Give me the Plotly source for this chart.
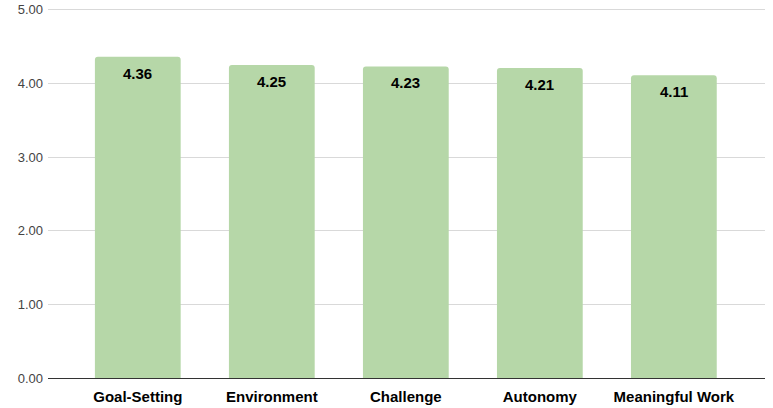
import plotly.graph_objects as go

# Daten aus dem Diagramm
categories = ["Goal-Setting", "Environment", "Challenge", "Autonomy", "Meaningful Work"]
scores = [4.36, 4.25, 4.23, 4.21, 4.11]
tick_values = [0, 1, 2, 3, 4, 5]
tick_labels = ["0.00", "1.00", "2.00", "3.00", "4.00", "5.00"]

x_pos = list(range(len(categories)))
bold_font = dict(family="Liberation Sans, Arial", size=15, color="#000000", weight="bold")

fig = go.Figure(
    go.Bar(
        x=x_pos,
        y=scores,
        width=0.64,
        marker=dict(color="#b6d7a8", cornerradius=3, line=dict(width=0)),
        hoverinfo="x+y",
    )
)

# Wertbeschriftungen oben im Balken
for i, v in zip(x_pos, scores):
    fig.add_annotation(
        x=i, y=v, text=f"{v:.2f}",
        showarrow=False, yanchor="top", yshift=-6,
        font=bold_font,
    )

fig.update_layout(
    width=773,
    height=408,
    margin=dict(l=48, r=8, t=6, b=30),
    plot_bgcolor="white",
    paper_bgcolor="white",
    showlegend=False,
    font=dict(family="Liberation Sans, Arial", size=13, color="#444444"),
)

fig.update_xaxes(
    range=[-0.67, 4.68],
    tickvals=x_pos,
    ticktext=categories,
    tickfont=bold_font,
    showgrid=False,
    showline=False,
    ticks="",
    ticklabelstandoff=8,
    automargin=False,
)

# Obergrenze etwas über 5, damit die 5.00-Gitterlinie gezeichnet wird
fig.update_yaxes(
    range=[0, 5.05],
    tickvals=tick_values,
    ticktext=tick_labels,
    showgrid=True,
    gridcolor="#d9d9d9",
    gridwidth=1,
    zeroline=True,
    zerolinecolor="#333333",
    zerolinewidth=1,
    ticks="",
    ticklabelstandoff=4,
    automargin=False,
)

# Body-Rand der Seite entfernen, damit die Grafik bündig sitzt
fig.write_html(
    "out.html",
    config={"displayModeBar": False},
    post_script="document.body.style.margin='0';",
)
